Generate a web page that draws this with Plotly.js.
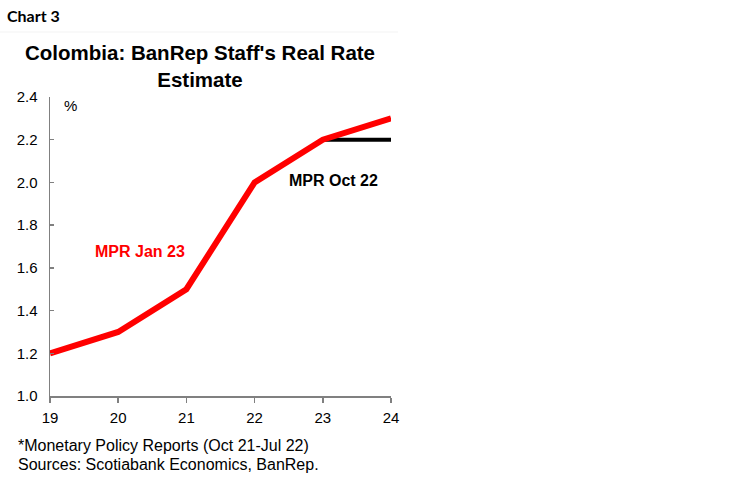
<!DOCTYPE html>
<html>
<head>
<meta charset="utf-8">
<script src="https://cdn.plot.ly/plotly-3.0.1.min.js"></script>
<style>
  html, body { margin: 0; padding: 0; background: #ffffff; }
  #plot { width: 750px; height: 482px; }
</style>
</head>
<body>
<div id="plot"></div>
<script>
  // Werte
  var years = [19, 20, 21, 22, 23, 24];
  var mprJan23 = [1.2, 1.3, 1.5, 2.0, 2.2, 2.3];
  var yearsOct22 = [23, 24];
  var mprOct22 = [2.2, 2.2];
  var yTicks = [1.0, 1.2, 1.4, 1.6, 1.8, 2.0, 2.2, 2.4];

  var FONT = "Liberation Sans, Arial, sans-serif";

  var traces = [
    {
      x: yearsOct22,
      y: mprOct22,
      type: "scatter",
      mode: "lines",
      name: "MPR Oct 22",
      line: { color: "#000000", width: 4 },
      hoverinfo: "skip"
    },
    {
      x: years,
      y: mprJan23,
      type: "scatter",
      mode: "lines",
      name: "MPR Jan 23",
      line: { color: "#ff0000", width: 6 },
      hoverinfo: "skip"
    }
  ];

  var layout = {
    width: 750,
    height: 482,
    showlegend: false,
    paper_bgcolor: "#ffffff",
    plot_bgcolor: "#ffffff",
    font: { family: FONT, color: "#000000", size: 15 },
    margin: { l: 50, r: 359, t: 97, b: 86 },

    title: {
      text: "Colombia: BanRep Staff's Real Rate<br>Estimate",
      font: { family: FONT, size: 20.5, color: "#000000", weight: "bold" },
      xref: "container",
      x: 200 / 750,
      xanchor: "center",
      yref: "container",
      y: 1 - 60 / 482,
      yanchor: "top"
    },

    xaxis: {
      range: [19, 24],
      tickmode: "array",
      tickvals: years,
      ticktext: years.map(String),
      showgrid: false,
      zeroline: false,
      showline: true,
      linecolor: "#808080",
      linewidth: 1.5,
      ticks: "outside",
      ticklen: 5,
      tickwidth: 1.5,
      tickcolor: "#808080",
      ticklabelstandoff: 2,
      tickfont: { family: FONT, size: 15, color: "#000000" }
    },

    yaxis: {
      range: [1.0, 2.4],
      tickmode: "array",
      tickvals: yTicks,
      ticktext: yTicks.map(function (v) { return v.toFixed(1); }),
      showgrid: false,
      zeroline: false,
      showline: true,
      linecolor: "#808080",
      linewidth: 1.5,
      ticks: "inside",
      ticklen: 4,
      tickwidth: 1.5,
      tickcolor: "#808080",
      ticklabelstandoff: 8,
      tickfont: { family: FONT, size: 15, color: "#000000" }
    },

    shapes: [
      {
        type: "line",
        xref: "paper", yref: "paper",
        x0: -50 / 341, x1: 348 / 341,
        y0: 1 + 65 / 299, y1: 1 + 65 / 299,
        line: { color: "#f3f3f3", width: 1 }
      }
    ],

    annotations: [
      {
        text: "<b>Chart 3</b>",
        xref: "paper", yref: "paper",
        x: -45 / 341, y: 1 + 81 / 299,
        xanchor: "left", yanchor: "middle",
        showarrow: false,
        font: { family: "Lato, Open Sans, sans-serif", size: 16, color: "#000000" }
      },
      {
        text: "%",
        xref: "paper", yref: "paper",
        x: 12 / 341, y: 1 - 8 / 299,
        xanchor: "left", yanchor: "middle",
        showarrow: false,
        font: { family: FONT, size: 15, color: "#000000" }
      },
      {
        text: "<b>MPR Jan 23</b>",
        xref: "x", yref: "y",
        x: 20.32, y: 1.675,
        xanchor: "center", yanchor: "middle",
        showarrow: false,
        font: { family: FONT, size: 16, color: "#ff0000" }
      },
      {
        text: "<b>MPR Oct 22</b>",
        xref: "x", yref: "y",
        x: 23.16, y: 2.01,
        xanchor: "center", yanchor: "middle",
        showarrow: false,
        font: { family: FONT, size: 16, color: "#000000" }
      },
      {
        text: "*Monetary Policy Reports (Oct 21-Jul 22)",
        xref: "paper", yref: "paper",
        x: -34 / 341, y: -49 / 299,
        xanchor: "left", yanchor: "middle",
        showarrow: false,
        font: { family: FONT, size: 16, color: "#000000" }
      },
      {
        text: "Sources: Scotiabank Economics, BanRep.",
        xref: "paper", yref: "paper",
        x: -34 / 341, y: -68 / 299,
        xanchor: "left", yanchor: "middle",
        showarrow: false,
        font: { family: FONT, size: 16, color: "#000000" }
      }
    ]
  };

  Plotly.newPlot("plot", traces, layout, { displayModeBar: false, staticPlot: true });
</script>
</body>
</html>
